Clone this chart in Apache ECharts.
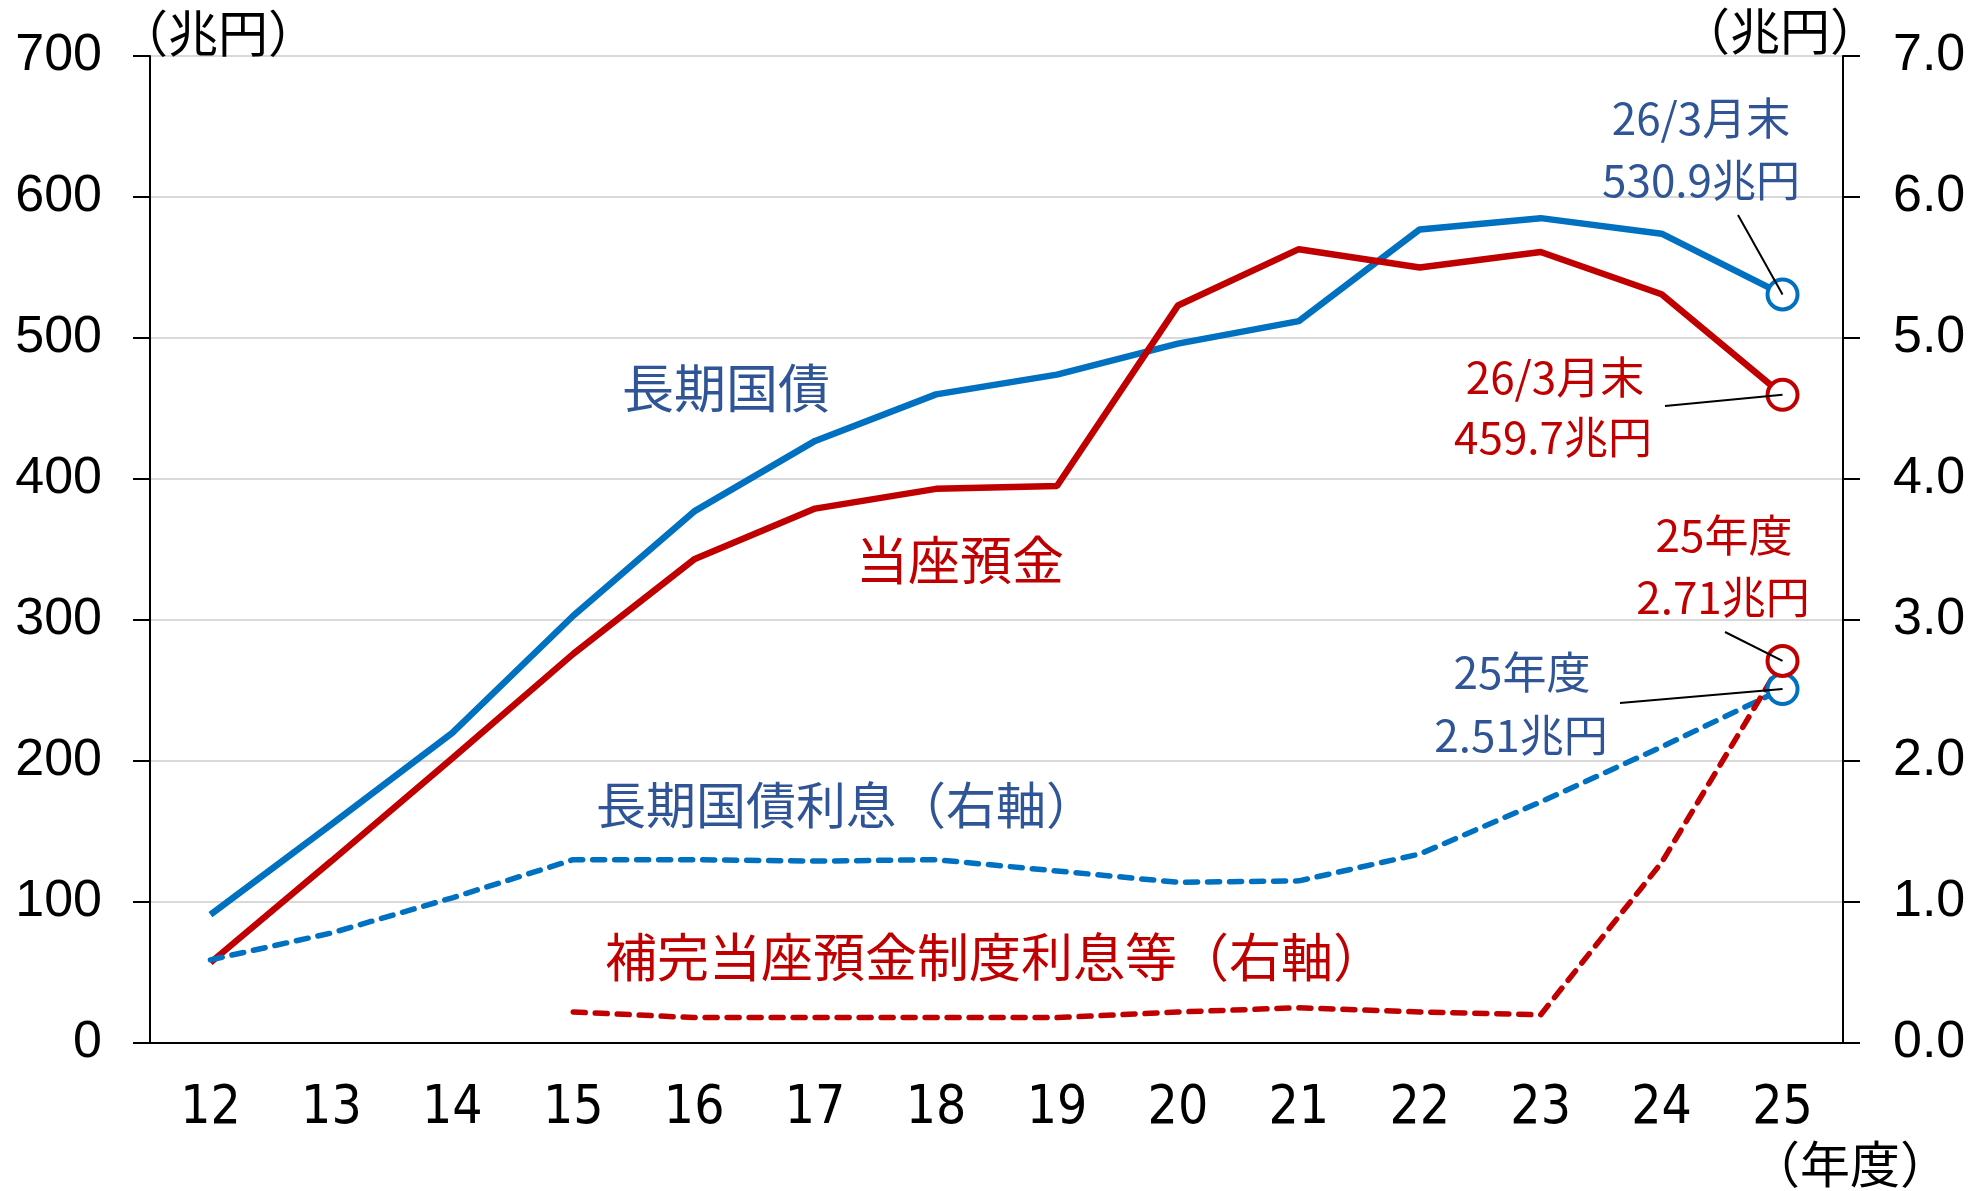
<!DOCTYPE html>
<html>
<head>
<meta charset="utf-8">
<script src="https://cdn.jsdelivr.net/npm/echarts@6/dist/echarts.min.js"></script>
<style>
  html, body { margin: 0; padding: 0; background: #fff; }
  #chart { width: 1980px; height: 1191px; }
</style>
</head>
<body>
<div id="chart"></div>
<script>
// 年度
var years = ['12', '13', '14', '15', '16', '17', '18', '19', '20', '21', '22', '23', '24', '25'];
// 左軸（兆円）
var jgbHoldings = [91, 155, 220, 303, 377, 427, 460, 474, 496, 512, 577, 585, 574, 530.9];
var currentAccounts = [57, 129, 202, 276, 343, 379, 393, 395, 523, 563, 550, 561, 531, 459.7];
// 右軸（兆円）
var jgbInterest = [0.59, 0.78, 1.03, 1.30, 1.30, 1.29, 1.30, 1.22, 1.14, 1.15, 1.34, 1.71, 2.10, 2.51];
var ccbInterest = ['-', '-', '-', 0.22, 0.18, 0.18, 0.18, 0.18, 0.22, 0.25, 0.22, 0.20, 1.28, 2.71];
var leftTicks = [0, 700, 100];
var rightTicks = [0, 7, 1];

var BLUE = '#0070C0', RED = '#C00000', BLUE_TXT = '#2F5597';
var CJK = '"Noto Sans CJK JP", sans-serif';
var lastIdx = years.length - 1;

var chart = echarts.init(document.getElementById('chart'));

function endSymbol(value, params) {
    return params.dataIndex === lastIdx ? 30 : 0;
}

function lineSeries(name, data, color, axis, dashed) {
    return {
        name: name,
        type: 'line',
        yAxisIndex: axis,
        data: data,
        symbol: 'circle',
        symbolSize: endSymbol,
        showAllSymbol: true,
        connectNulls: false,
        lineStyle: {
            color: color,
            width: dashed ? 5.5 : 6.5,
            type: dashed ? [12, 10] : 'solid',
            cap: dashed ? 'round' : 'butt'
        },
        itemStyle: { color: '#fff', borderColor: color, borderWidth: 4 },
        emphasis: { disabled: true },
        z: dashed ? 3 : 2
    };
}

var option = {
    animation: false,
    grid: { left: 150, right: 137, top: 56, bottom: 148 },
    xAxis: {
        type: 'category',
        data: years,
        boundaryGap: true,
        axisLine: { lineStyle: { color: '#000', width: 2 } },
        axisTick: { show: false },
        axisLabel: {
            margin: 40,
            color: '#000',
            fontSize: 53,
            fontFamily: '"Liberation Sans Narrow", "DejaVu Sans Condensed", sans-serif'
        }
    },
    yAxis: [
        {
            type: 'value',
            min: leftTicks[0], max: leftTicks[1], interval: leftTicks[2],
            axisLine: { show: true, lineStyle: { color: '#000', width: 2 } },
            axisTick: { show: true, length: 17, lineStyle: { color: '#000', width: 2 } },
            axisLabel: { margin: 48, color: '#000', fontSize: 52, fontFamily: '"Liberation Sans", Arial, sans-serif' },
            splitLine: { show: true, lineStyle: { color: '#D9D9D9', width: 2 } }
        },
        {
            type: 'value',
            min: rightTicks[0], max: rightTicks[1], interval: rightTicks[2],
            position: 'right',
            axisLine: { show: true, lineStyle: { color: '#000', width: 2 } },
            axisTick: { show: true, length: 17, lineStyle: { color: '#000', width: 2 } },
            axisLabel: {
                margin: 50, color: '#000', fontSize: 52, fontFamily: '"Liberation Sans", Arial, sans-serif',
                formatter: function (v) { return v.toFixed(1); }
            },
            splitLine: { show: false }
        }
    ],
    series: [
        lineSeries('長期国債', jgbHoldings, BLUE, 0, false),
        lineSeries('当座預金', currentAccounts, RED, 0, false),
        lineSeries('長期国債利息（右軸）', jgbInterest, BLUE, 1, true),
        lineSeries('補完当座預金制度利息等（右軸）', ccbInterest, RED, 1, true)
    ]
};
chart.setOption(option);

function txt(text, x, y, size, color, align) {
    return {
        type: 'text', x: x, y: y, z: 20,
        style: {
            text: text, fill: color,
            font: 'normal ' + size + 'px ' + CJK,
            textAlign: align || 'center', textVerticalAlign: 'middle'
        }
    };
}

function leader(x1, y1, p) {
    return {
        type: 'line', z: 25,
        shape: { x1: x1, y1: y1, x2: p[0], y2: p[1] },
        style: { stroke: '#000', lineWidth: 2 }
    };
}

var pBlue = chart.convertToPixel({ xAxisIndex: 0, yAxisIndex: 0 }, [years[lastIdx], jgbHoldings[lastIdx]]);
var pRed = chart.convertToPixel({ xAxisIndex: 0, yAxisIndex: 0 }, [years[lastIdx], currentAccounts[lastIdx]]);
var pBlueInt = chart.convertToPixel({ xAxisIndex: 0, yAxisIndex: 1 }, [years[lastIdx], jgbInterest[lastIdx]]);
var pRedInt = chart.convertToPixel({ xAxisIndex: 0, yAxisIndex: 1 }, [years[lastIdx], ccbInterest[lastIdx]]);

chart.setOption({
    graphic: [
        txt('（兆円）', 218, 33, 50, '#000'),
        txt('（兆円）', 1780, 31, 50, '#000'),
        txt('（年度）', 1850, 1164, 50, '#000'),

        txt('長期国債', 726, 388, 52, BLUE_TXT),
        txt('当座預金', 960, 560, 52, RED),
        txt('長期国債利息（右軸）', 846, 805, 50, BLUE_TXT),
        txt('補完当座預金制度利息等（右軸）', 995, 957, 52, RED),

        txt('26/3月末', 1701, 118, 44, BLUE_TXT),
        txt(jgbHoldings[lastIdx].toFixed(1) + '兆円', 1701, 180, 44, BLUE_TXT),
        txt('26/3月末', 1555, 377, 44, RED),
        txt(currentAccounts[lastIdx].toFixed(1) + '兆円', 1553, 437, 44, RED),
        txt('25年度', 1724, 535, 44, RED),
        txt(ccbInterest[lastIdx].toFixed(2) + '兆円', 1723, 597, 44, RED),
        txt('25年度', 1522, 672, 44, BLUE_TXT),
        txt(jgbInterest[lastIdx].toFixed(2) + '兆円', 1521, 735, 44, BLUE_TXT),

        leader(1738, 215, pBlue),
        leader(1665, 406, pRed),
        leader(1725, 632, pRedInt),
        leader(1620, 703, pBlueInt)
    ]
});
</script>
</body>
</html>
